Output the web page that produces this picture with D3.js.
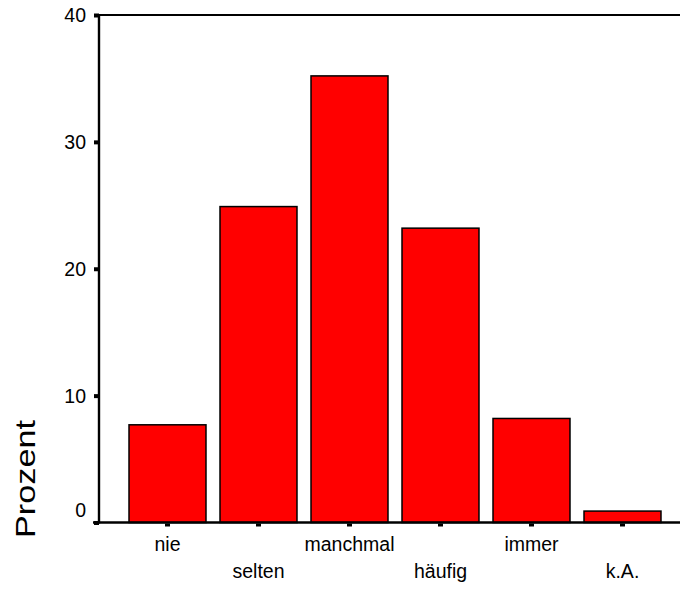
<!DOCTYPE html>
<html><head><meta charset="utf-8">
<script src="https://cdn.jsdelivr.net/npm/d3@7"></script>
<style>body{margin:0;background:#fff}svg{display:block}text{font-family:Arial,"Liberation Sans",sans-serif;fill:#000}</style>
</head><body>
<script>
const categories = ["nie","selten","manchmal","häufig","immer","k.A."];
const values = [7.7, 24.9, 35.2, 23.2, 8.2, 0.9];
const yTicks = [0, 10, 20, 30, 40];
const yLabel = "Prozent";

const W = 680, H = 595;
const svg = d3.select("body").append("svg").attr("width", W).attr("height", H);
const x = d3.scaleBand().domain(categories).range([122, 668]).paddingInner(0.154).paddingOuter(0.077);
const y = d3.scaleLinear().domain([0, 40]).range([522.5, 15]);
const axisX0 = 99;

// bars
svg.append("g").selectAll("rect").data(values).join("rect")
  .attr("x", (d, i) => x(categories[i]))
  .attr("y", d => y(d))
  .attr("width", x.bandwidth())
  .attr("height", d => y(0) - y(d))
  .attr("fill", "#ff0000").attr("stroke", "#000").attr("stroke-width", 1.5);

// y axis
const yAxis = svg.append("g").attr("transform", `translate(${axisX0},0)`)
  .call(d3.axisLeft(y).tickValues(yTicks).tickSize(5).tickPadding(8));
yAxis.select(".domain").remove();
yAxis.selectAll(".tick line").attr("stroke", "#000").attr("stroke-width", 4);
yAxis.selectAll(".tick text").attr("font-size", 19.5)
  .attr("dy", d => d === 0 ? "-0.3em" : "0.35em");
svg.append("line").attr("x1", axisX0).attr("x2", axisX0).attr("y1", y(40) - 1).attr("y2", y(0) + 1)
  .attr("stroke", "#000").attr("stroke-width", 2.4);
// top frame line
svg.append("line").attr("x1", axisX0).attr("x2", W).attr("y1", y(40)).attr("y2", y(40))
  .attr("stroke", "#000").attr("stroke-width", 2);

// x axis
const xAxis = svg.append("g").attr("transform", `translate(0,${y(0)})`)
  .call(d3.axisBottom(x).tickSize(3).tickPadding(0));
xAxis.select(".domain").remove();
xAxis.selectAll(".tick line").attr("stroke", "#000").attr("stroke-width", 5).attr("transform", "translate(0,1)");
xAxis.selectAll(".tick text").attr("font-size", 19.5)
  .attr("dy", (d, i) => i % 2 === 0 ? 28 : 55).attr("y", 0);
svg.append("line").attr("x1", 93).attr("x2", W).attr("y1", y(0)).attr("y2", y(0))
  .attr("stroke", "#000").attr("stroke-width", 2.4);

// y label
svg.append("text").attr("transform", "translate(35,538) rotate(-90)")
  .attr("font-size", 28).attr("textLength", 118).attr("lengthAdjust", "spacingAndGlyphs")
  .text(yLabel);
</script>
</body></html>
